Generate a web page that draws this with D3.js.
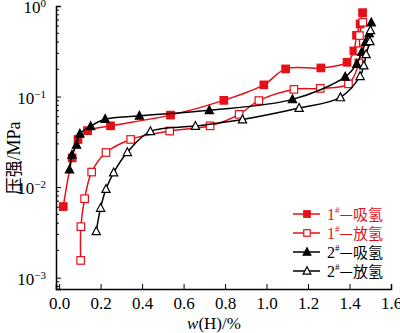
<!DOCTYPE html>
<html>
<head>
<meta charset="utf-8">
<script src="https://cdn.jsdelivr.net/npm/d3@7"></script>
<style>
  body { margin: 0; background: #fff; }
  text { font-family: "Liberation Serif", "Times New Roman", serif; }
</style>
</head>
<body>
<div id="chart"></div>
<script>
// data: w(H) in %, pressure in MPa
const abs1X = [0.02, 0.063, 0.091, 0.137, 0.248, 0.537, 0.794, 0.987, 1.092, 1.262, 1.388, 1.421, 1.434, 1.451, 1.463];
const abs1P = [0.0061, 0.021, 0.0336, 0.042, 0.0475, 0.0624, 0.0908, 0.1346, 0.202, 0.207, 0.239, 0.319, 0.475, 0.634, 0.844];
const des1X = [0.104, 0.105, 0.123, 0.157, 0.226, 0.345, 0.533, 0.728, 0.868, 0.963, 1.132, 1.259, 1.395, 1.445, 1.45, 1.448, 1.464];
const des1P = [0.00155, 0.00366, 0.00745, 0.01466, 0.0241, 0.0336, 0.0416, 0.0475, 0.0636, 0.0903, 0.12, 0.123, 0.138, 0.235, 0.321, 0.471, 0.661];
const abs2X = [0.05, 0.062, 0.084, 0.1, 0.152, 0.222, 0.387, 0.724, 1.125, 1.379, 1.435, 1.459, 1.478, 1.495, 1.505];
const abs2P = [0.0156, 0.0228, 0.0293, 0.0388, 0.0469, 0.0564, 0.0612, 0.0705, 0.0931, 0.165, 0.229, 0.311, 0.401, 0.5, 0.658];
const des2X = [0.179, 0.2, 0.226, 0.263, 0.329, 0.44, 0.657, 0.884, 1.157, 1.356, 1.451, 1.469, 1.48, 1.498, 1.501];
const des2P = [0.00325, 0.00589, 0.00953, 0.0145, 0.0243, 0.0413, 0.0472, 0.0558, 0.0747, 0.098, 0.168, 0.22, 0.293, 0.408, 0.54];

const xTicks = [0, 0.2, 0.4, 0.6, 0.8, 1.0, 1.2, 1.4, 1.6];
const yExps = [0, -1, -2, -3];
const seriesNames = ["1#—吸氢", "1#—放氢", "2#—吸氢", "2#—放氢"];

const red = "#e60f18";
const series = [
  {x: abs1X, p: abs1P, color: red, shape: "square", filled: true},
  {x: des1X, p: des1P, color: red, shape: "square", filled: false},
  {x: abs2X, p: abs2P, color: "#000", shape: "triangle", filled: true},
  {x: des2X, p: des2P, color: "#000", shape: "triangle", filled: false}
];

const width = 400, height = 333;
const svg = d3.select("#chart").append("svg")
    .attr("width", width)
    .attr("height", height);

const x = d3.scaleLinear().domain([-0.015, 1.6]).range([56, 391]);
const y = d3.scaleLog().domain([Math.pow(10, -3.125), 1]).range([289, 6]);

// axes (ticks point inward)
const xAxis = svg.append("g")
    .attr("transform", `translate(0,${y.range()[0]})`)
    .call(d3.axisBottom(x).tickValues(xTicks).tickSize(-5).tickFormat(d3.format(".1f")));
xAxis.select(".domain").attr("stroke-width", 1.5);
xAxis.selectAll("text").attr("font-size", 17).attr("y", 4).attr("dy", "0.95em").attr("fill", "#000");

const minor = [];
for (let e = -4; e < 0; e++) for (let m = 2; m <= 9; m++) {
  const v = m * Math.pow(10, e);
  if (v >= y.domain()[0] && v <= 1) minor.push(v);
}
const yAxis = svg.append("g")
    .attr("transform", `translate(${x.range()[0]},0)`)
    .call(d3.axisLeft(y).tickValues(yExps.map(e => Math.pow(10, e))).tickSize(-5).tickFormat(""));
yAxis.select(".domain").attr("stroke-width", 1.5);
yAxis.selectAll(".minor").data(minor).enter().append("line")
    .attr("x1", 0).attr("x2", 3)
    .attr("y1", d => y(d)).attr("y2", d => y(d))
    .attr("stroke", "#000");

const yLab = svg.append("g").selectAll("text").data(yExps).enter().append("text")
    .attr("x", 46).attr("y", d => y(Math.pow(10, d)) + 7)
    .attr("text-anchor", "end")
    .attr("font-size", 17);
yLab.append("tspan").text("10");
yLab.append("tspan").attr("dy", -6).attr("font-size", 11).text(d => d === 0 ? "0" : "\u2212" + (-d));

// lines and markers
const line = d3.line().curve(d3.curveCatmullRom.alpha(0.5));

function marker(sel, s, size) {
  if (s.shape === "square") {
    sel.append("rect")
      .attr("x", -size / 2).attr("y", -size / 2)
      .attr("width", size).attr("height", size);
  } else {
    sel.append("path")
      .attr("d", `M0,${-size * 0.6}L${size * 0.55},${size * 0.45}L${-size * 0.55},${size * 0.45}Z`);
  }
  sel.attr("fill", s.filled ? s.color : "#fff")
    .attr("stroke", s.color)
    .attr("stroke-width", 1.2);
}

series.forEach(s => {
  const pts = s.x.map((v, i) => [x(v), y(s.p[i])]);
  svg.append("path")
    .attr("d", line(pts))
    .attr("fill", "none")
    .attr("stroke", s.color)
    .attr("stroke-width", 1.5);
  pts.forEach(p => {
    const g = svg.append("g").attr("transform", `translate(${p[0]},${p[1]})`);
    marker(g, s, s.shape === "square" ? 7.5 : 7.5);
  });
});

// legend
const legY = [214, 233, 252, 271];
series.forEach((s, i) => {
  const g = svg.append("g").attr("transform", `translate(0,${legY[i]})`);
  g.append("line").attr("x1", 293).attr("x2", 320)
    .attr("stroke", s.color).attr("stroke-width", 1.5);
  const m = g.append("g").attr("transform", "translate(307,0)");
  marker(m, s, s.shape === "square" ? 6.5 : 7);
  const t = g.append("text").attr("x", 327).attr("y", 6)
    .attr("fill", s.color === red ? red : "#000")
    .attr("font-size", 16);
  const parts = seriesNames[i].split("#");
  t.append("tspan").text(parts[0]);
  t.append("tspan").attr("dy", -7).attr("font-size", 9).text("#");
  t.append("tspan").attr("dy", 7)
    .attr("style", 'font-family:"Noto Sans CJK SC",sans-serif')
    .attr("font-size", 15).text(parts[1]);
});

// axis titles
const xt = svg.append("text").attr("x", 214).attr("y", 329)
    .attr("text-anchor", "middle").attr("font-size", 17);
xt.append("tspan").attr("font-style", "italic").text("w");
xt.append("tspan").text("(H)/%");

const yt = svg.append("text")
    .attr("transform", "translate(20,158) rotate(-90)")
    .attr("text-anchor", "middle").attr("font-size", 18);
yt.append("tspan").attr("style", 'font-family:"Noto Sans CJK SC",sans-serif').attr("font-size", 17).text("压强");
yt.append("tspan").text("/MPa");
</script>
</body>
</html>
